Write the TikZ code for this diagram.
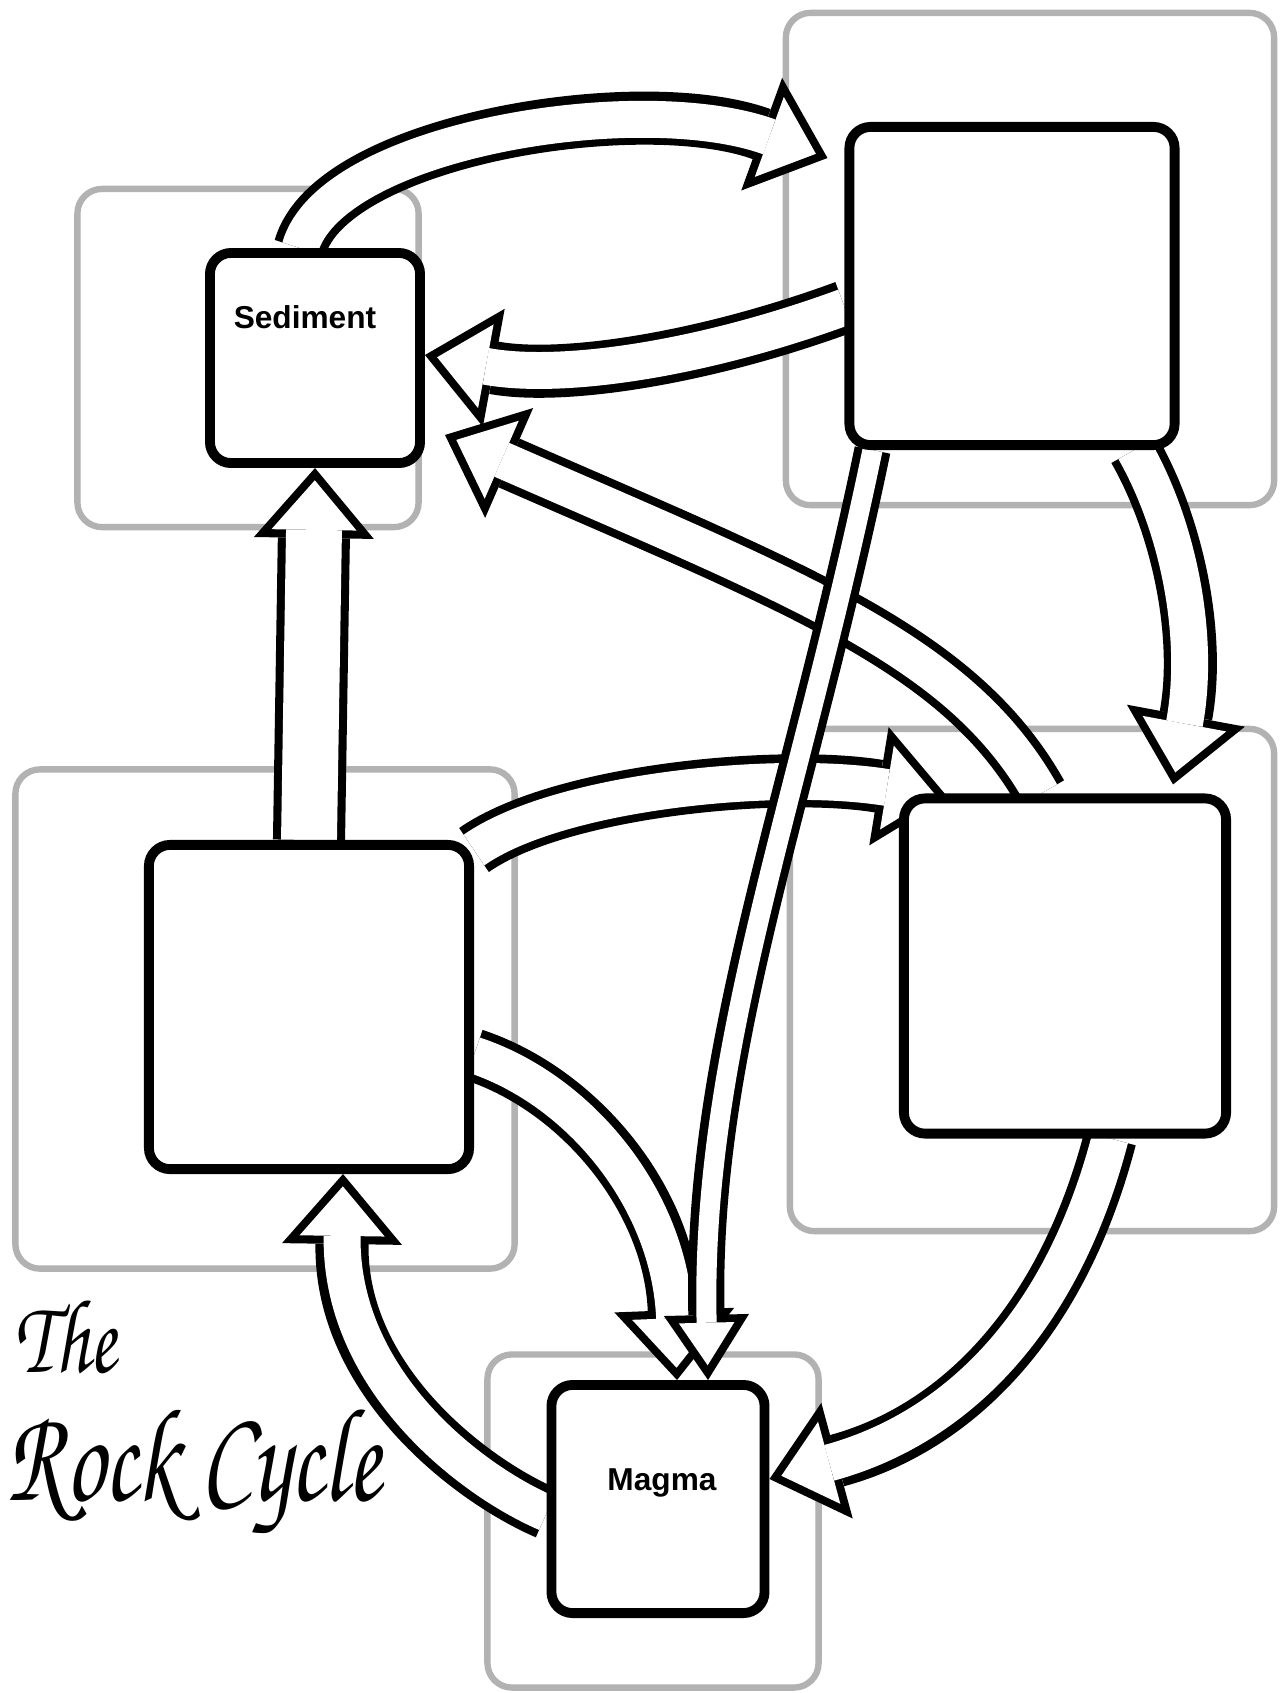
\documentclass[tikz,border=0pt]{standalone}
\usepackage[T1]{fontenc}
\usepackage{fontspec}
\setmainfont{Liberation Sans}
\usepackage{graphicx}
\usetikzlibrary{arrows.meta,positioning}
\pgfdeclarelayer{back}
\pgfdeclarelayer{mid}
\pgfsetlayers{back,mid,main}
\newcommand{\chancery}[1]{\fontencoding{T1}\fontfamily{pzc}\fontseries{mb}\fontshape{it}\fontsize{#1}{#1}\selectfont}

\begin{document}
\begin{tikzpicture}[x=0.01cm, y=-0.01cm,
    box/.style={rectangle, draw, line width=2.8pt, rounded corners=6pt,
        fill=white, inner sep=0pt},
    ghost/.style={rectangle, draw=gray!60, line width=1.8pt, rounded corners=7pt,
        inner sep=0pt},
    boxtext/.style={font=\bfseries\fontsize{9}{11}\selectfont},
    rockarrow/.style={line width=#1,
        -{Triangle[length=19.9pt, width=34.1pt, line width=0pt]},
        postaction={draw=white, line width=#1-4.6pt, shorten >=3.5pt,
            -{Triangle[length=14.1pt, width=24.2pt, line width=0pt]}}},
    rockarrow/.default=15.1pt,
    thinarrow/.style={line width=10.3pt,
        -{Triangle[length=18.5pt, width=24.2pt, line width=0pt]},
        postaction={draw=white, line width=5.7pt, shorten >=4.2pt,
            -{Triangle[length=12.1pt, width=15.8pt, line width=0pt]}}},
    titletext/.style={anchor=base west, inner sep=0pt, text depth=0pt}
]
    \useasboundingbox (0,0) rectangle (1288,1693);

    % grey frames behind the boxes
    \begin{pgfonlayer}{back}
        \fill[white] (0,0) rectangle (1288,1693);
        \node[ghost, minimum width=3.41cm, minimum height=3.38cm] (gsed) at (248,358) {};
        \node[ghost, minimum width=4.88cm, minimum height=4.92cm] (gtr) at (1030,259) {};
        \node[ghost, minimum width=4.99cm, minimum height=4.99cm] (glm) at (265,1019) {};
        \node[ghost, minimum width=4.84cm, minimum height=5.02cm] (grm) at (1032,980) {};
        \node[ghost, minimum width=3.31cm, minimum height=3.33cm] (gmag) at (653,1521) {};
    \end{pgfonlayer}

    % the five boxes
    \node[box, minimum width=2.10cm, minimum height=2.10cm,
        label={[boxtext, xshift=-0.1cm, yshift=0.41cm]center:Sediment}] (sed) at (315,358) {};
    \node[box, minimum width=3.25cm, minimum height=3.18cm] (tr) at (1012,286) {};
    \node[box, minimum width=3.20cm, minimum height=3.24cm] (lm) at (309,1007) {};
    \node[box, minimum width=3.22cm, minimum height=3.35cm] (rm) at (1065,966) {};
    \node[box, minimum width=2.13cm, minimum height=2.28cm,
        label={[boxtext, xshift=0.04cm, yshift=0.16cm]center:Magma}] (mag) at (658,1499) {};

    % hollow arrows
    \begin{pgfonlayer}{mid}
        \draw[rockarrow] ([xshift=-0.15cm]sed.north) .. controls (330,140) and (640,90)
            .. ([xshift=-0.17cm, yshift=-0.36cm]tr.north west);
        \draw[rockarrow] ([yshift=-0.21cm]tr.west) .. controls (700,360) and (560,380)
            .. ([yshift=0.03cm]sed.east);
        \draw[rockarrow=20.5pt] (lm.north) -- (sed.south);
        \draw[rockarrow] ([xshift=-0.45cm]tr.south east) .. controls (1180,530) and (1200,640)
            .. ([xshift=1.08cm, yshift=0.09cm]rm.north);
        \draw[rockarrow] ([xshift=-0.24cm]rm.north) .. controls (960,650) and (800,590)
            .. ([xshift=0.2cm, yshift=0.33cm]sed.south east);
        \draw[rockarrow] ([yshift=-0.1cm]lm.north east) .. controls (560,790) and (780,770)
            .. ([xshift=0.49cm, yshift=-0.04cm]rm.north west);
        \draw[rockarrow] ([yshift=-0.48cm]lm.east) .. controls (580,1090) and (670,1200)
            .. ([xshift=0.19cm]mag.north);
        \draw[rockarrow] ([xshift=0.45cm]rm.south) .. controls (1060,1330) and (950,1430)
            .. ([yshift=0.2cm]mag.east);
        \draw[rockarrow] ([yshift=-0.14cm]mag.west) .. controls (470,1480) and (340,1380)
            .. ([xshift=0.34cm]lm.south);
        \draw[thinarrow] ([xshift=0.28cm]tr.south west) .. controls (800,800) and (700,1050)
            .. ([xshift=0.5cm]mag.north);
    \end{pgfonlayer}

    % title
    \node[titletext, font=\chancery{30}] (titlethe) at (14,1372)
        {\scalebox{0.74}[1]{The}};
    \node[titletext, font=\chancery{38}] (titlerock) at (6,1500)
        {\scalebox{0.73}[1]{Rock Cycle}};
\end{tikzpicture}
\end{document}
